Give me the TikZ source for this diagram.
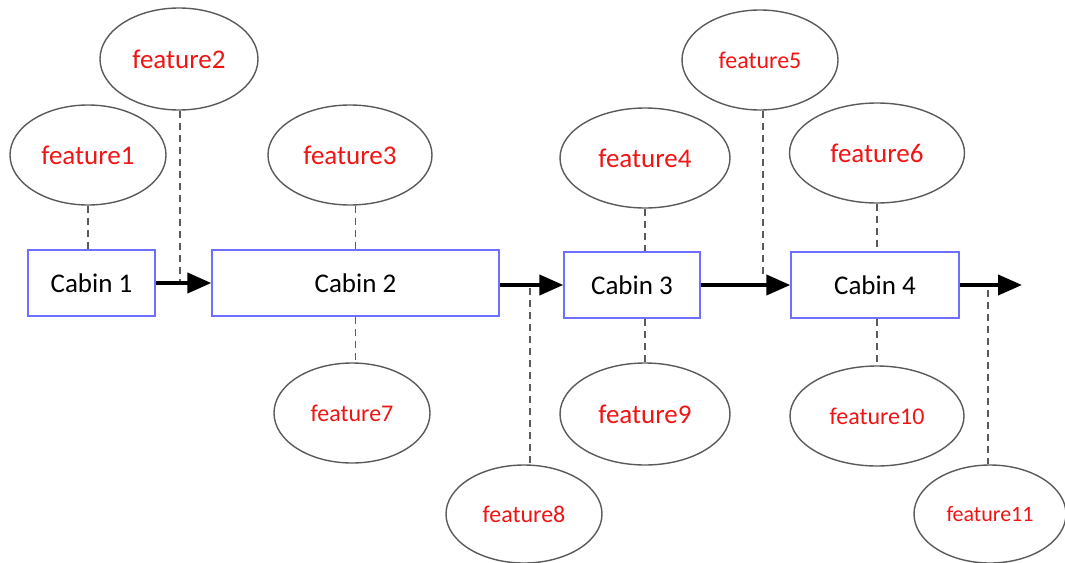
\documentclass[tikz,border=0pt]{standalone}
\usepackage{fontspec}
\setmainfont{Carlito}
\usetikzlibrary{arrows.meta,shapes.geometric}
\definecolor{boxblue}{RGB}{110,110,255}
\definecolor{ellgray}{RGB}{90,90,90}
\definecolor{featred}{RGB}{240,20,20}
\begin{document}
\begin{tikzpicture}[x=1pt,y=-1pt,
  cabin/.style={draw=boxblue,line width=1.3pt,fill=white,minimum height=66pt,inner sep=0pt,font=\fontsize{27}{29}\selectfont,text=black},
  feat/.style={ellipse,draw=ellgray,line width=1.4pt,inner sep=0pt,minimum width=#1,minimum height=100pt,text=featred,font=\fontsize{27}{29}\selectfont},
  featsm/.style={feat=#1,font=\fontsize{24}{26}\selectfont},
  featxs/.style={feat=#1,font=\fontsize{22}{24}\selectfont},
  link/.style={dashed,draw=ellgray,line width=1.2pt,dash pattern=on 7pt off 5pt},
  flow/.style={line width=4pt,-{Triangle[length=24pt,width=20pt]}}]
\useasboundingbox (0,0) rectangle (1065,562);
% cabins
\node[cabin,minimum width=127pt] (c1) at (91.5,283) {Cabin 1};
\node[cabin,minimum width=287pt] (c2) at (355.5,283) {Cabin 2};
\node[cabin,minimum width=136pt] (c3) at (632,285) {Cabin 3};
\node[cabin,minimum width=168pt] (c4) at (875,285) {Cabin 4};
\coordinate (end) at (1022,285);
% features
\node[feat=156pt] (f1) at (88,155) {feature1};
\node[feat=158pt,minimum height=102pt] (f2) at (179,59) {feature2};
\node[feat=164pt] (f3) at (350,155) {feature3};
\node[feat=170pt] (f4) at (645,158) {feature4};
\node[featsm=156pt] (f5) at (760,60) {feature5};
\node[feat=175pt] (f6) at (877,153) {feature6};
\node[featsm=156pt] (f7) at (352,413) {feature7};
\node[featsm=156pt,minimum height=98pt] (f8) at (524,514) {feature8};
\node[feat=170pt,minimum height=102pt] (f9) at (645,414) {feature9};
\node[featsm=174pt] (f10) at (877,416) {feature10};
\node[featxs=152pt,minimum height=98pt] (f11) at (990,514) {feature11};
% connection points on arrows
\coordinate (p2) at (180,281);
\coordinate (p8) at (530,288);
\coordinate (p5) at (763,277);
\coordinate (p11) at (988,290);
% arrows
\draw[flow] (c1.east) -- (c2.west);
\draw[flow] (c2.east |- c3.west) -- (c3.west);
\draw[flow] (c3.east) -- (c4.west);
\draw[flow] (c4.east) -- (end);
% dashed links
\draw[link] (f1.south) -- (f1.south |- c1.north);
\draw[link] (f2.south -| p2) -- (p2);
\draw[link] (f3.south -| c2.north) -- (c2.north);
\draw[link] (c2.south) -- (c2.south |- f7.north);
\draw[link] (p8) -- ([xshift=6pt]f8.north);
\draw[link] (f4.south) -- (f4.south |- c3.north);
\draw[link] (c3.south -| f9.north) -- (f9.north);
\draw[link] (f5.south -| p5) -- (p5);
\draw[link] (f6.south) -- (f6.south |- c4.north);
\draw[link] (c4.south -| f10.north) -- (f10.north);
\draw[link] (p11) -- (f11.north -| p11);
\end{tikzpicture}
\end{document}
